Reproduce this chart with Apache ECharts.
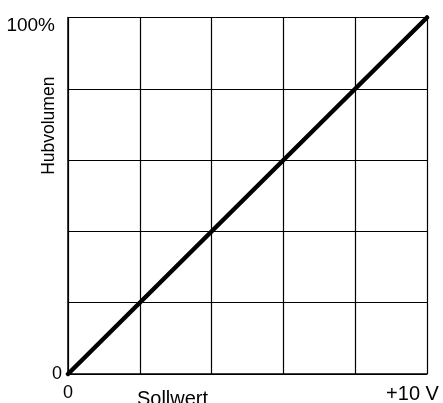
<!DOCTYPE html>
<html>
<head>
<meta charset="utf-8">
<script src="https://cdn.jsdelivr.net/npm/echarts@6/dist/echarts.min.js"></script>
<style>
  html, body { margin: 0; padding: 0; background: #fff; }
  #chart { width: 443px; height: 403px; }
</style>
</head>
<body>
<div id="chart"></div>
<script>
// Setpoint voltage (V) against stroke volume (%)
const sollwert = [0, 10];
const hubvolumen = [0, 100];

// Axis end labels
const xTickLabels = { 0: '0', 10: '+10 V' };
const yTickLabels = { 0: '0', 100: '100%' };

const FONT = 'Liberation Sans, Arial, Helvetica, sans-serif';

const chart = echarts.init(document.getElementById('chart'), null, { renderer: 'canvas' });

chart.setOption({
  animation: false,
  backgroundColor: '#fff',
  grid: { left: 68, right: 16, top: 17.5, bottom: 29, containLabel: false, outerBoundsMode: 'none' },
  xAxis: {
    type: 'value',
    min: 0, max: 10, interval: 2,
    name: 'Sollwert',
    nameLocation: 'middle',
    nameGap: 15,
    nameMoveOverlap: false,
    nameTextStyle: { color: '#000', fontFamily: FONT, fontSize: 20, padding: [0, 150, 0, 0] },
    axisLine: { show: true, onZero: false, lineStyle: { color: '#000', width: 1.5 } },
    axisTick: { show: false },
    splitLine: { show: true, lineStyle: { color: '#000', width: 1.2 } },
    axisLabel: {
      margin: 10,
      color: '#000',
      fontFamily: FONT,
      fontSize: 18,
      showMinLabel: true, showMaxLabel: true,
      formatter: v => xTickLabels[v] !== undefined ? (v === 10 ? '{end|' + xTickLabels[v] + '}' : xTickLabels[v]) : '',
      rich: { end: { fontFamily: FONT, fontSize: 20, color: '#000', padding: [0, 29, 8, 0] } }
    }
  },
  yAxis: {
    type: 'value',
    min: 0, max: 100, interval: 20,
    name: 'Hubvolumen',
    nameLocation: 'middle',
    nameGap: 10,
    nameMoveOverlap: false,
    nameTextStyle: { color: '#000', fontFamily: FONT, fontSize: 17.5, padding: [0, 0, 0, 140] },
    axisLine: { show: true, onZero: false, lineStyle: { color: '#000', width: 1.5 } },
    axisTick: { show: false },
    splitLine: { show: true, lineStyle: { color: '#000', width: 1.2 } },
    axisLabel: {
      margin: 6,
      color: '#000',
      fontFamily: FONT,
      fontSize: 18,
      showMinLabel: true, showMaxLabel: true,
      formatter: v => yTickLabels[v] !== undefined ? (v === 100 ? '{top|' + yTickLabels[v] + '}' : yTickLabels[v]) : '',
      rich: { top: { fontFamily: FONT, fontSize: 19, color: '#000', padding: [16, 7, 0, 0] } }
    }
  },
  series: [{
    type: 'line',
    data: sollwert.map((x, i) => [x, hubvolumen[i]]),
    showSymbol: false,
    lineStyle: { color: '#000', width: 4.5, cap: 'round' },
    clip: false
  }]
});
</script>
</body>
</html>
